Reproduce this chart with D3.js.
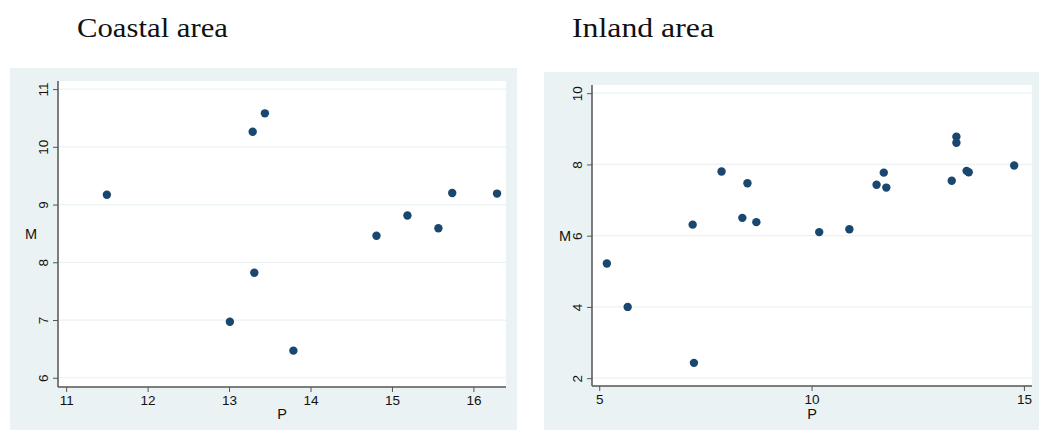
<!DOCTYPE html>
<html>
<head>
<meta charset="utf-8">
<script src="https://cdn.jsdelivr.net/npm/d3@7"></script>
<style>
  body { margin: 0; background: #fff; }
  .tick text { font-family: Arial, "Liberation Sans", sans-serif; font-size: 13.5px; fill: #111; }
</style>
</head>
<body>
<div id="chart"></div>
<script>
// coastal panel data
const coastalP = [11.50, 13.29, 13.44, 13.31, 13.01, 13.79, 14.81, 15.19, 15.57, 15.74, 16.29];
const coastalM = [9.17, 10.26, 10.58, 7.82, 6.97, 6.47, 8.46, 8.81, 8.59, 9.20, 9.19];
const coastalXTicks = [11, 12, 13, 14, 15, 16];
const coastalYTicks = [6, 7, 8, 9, 10, 11];

// inland panel data
const inlandP = [5.18, 5.67, 7.20, 7.23, 7.88, 8.49, 8.37, 8.70, 10.18, 10.89, 11.53, 11.70, 11.76, 13.30, 13.41, 13.41, 13.65, 13.70, 14.77];
const inlandM = [5.22, 4.00, 6.31, 2.43, 7.80, 7.47, 6.50, 6.38, 6.10, 6.18, 7.43, 7.77, 7.35, 7.54, 8.78, 8.61, 7.82, 7.78, 7.97];
const inlandXTicks = [5, 10, 15];
const inlandYTicks = [2, 4, 6, 8, 10];

const svg = d3.select("#chart").append("svg")
  .attr("width", 1039)
  .attr("height", 430);

function drawPanel(opts) {
  const g = svg.append("g");

  // outer light panel
  g.append("rect")
    .attr("x", opts.bg[0]).attr("y", opts.bg[1])
    .attr("width", opts.bg[2]).attr("height", opts.bg[3])
    .attr("fill", "#eaf2f3");

  // plot region
  g.append("rect")
    .attr("x", opts.left).attr("y", opts.top)
    .attr("width", opts.right - opts.left).attr("height", opts.bottom - opts.top)
    .attr("fill", "#fff");

  const x = d3.scaleLinear().domain(opts.xDomain).range([opts.left, opts.right]);
  const y = d3.scaleLinear().domain(opts.yDomain).range([opts.bottom, opts.top]);

  // gridlines
  g.append("g").selectAll("line")
    .data(opts.yTicks)
    .enter()
    .append("line")
    .attr("x1", opts.left).attr("x2", opts.right)
    .attr("y1", d => y(d)).attr("y2", d => y(d))
    .attr("stroke", "#eaf2f3")
    .attr("stroke-width", 1.2);

  // title
  svg.append("text")
    .attr("x", opts.titleX).attr("y", 37)
    .attr("font-family", "'Liberation Serif', 'DejaVu Serif', serif")
    .attr("font-size", 27)
    .attr("textLength", opts.titleLen)
    .attr("lengthAdjust", "spacingAndGlyphs")
    .attr("fill", "#111")
    .text(opts.title);

  // x axis
  const xAxis = g.append("g")
    .attr("transform", `translate(0, ${opts.bottom})`)
    .call(d3.axisBottom(x).tickValues(opts.xTicks).tickSize(5).tickPadding(3).tickFormat(d3.format("d")));
  xAxis.select(".domain").attr("stroke", "#555").attr("stroke-width", 1.5)
    .attr("d", `M${opts.left},0H${opts.right}`);
  xAxis.selectAll(".tick line").attr("stroke", "#555");

  // y axis
  const yAxis = g.append("g")
    .attr("transform", `translate(${opts.left}, 0)`)
    .call(d3.axisLeft(y).tickValues(opts.yTicks).tickSize(5).tickFormat(d3.format("d")));
  yAxis.select(".domain").attr("stroke", "#555").attr("stroke-width", 1.5)
    .attr("d", `M0,${opts.top}V${opts.bottom}`);
  yAxis.selectAll(".tick line").attr("stroke", "#555");
  yAxis.selectAll(".tick text")
    .attr("x", 0).attr("dy", 0)
    .attr("text-anchor", "middle")
    .attr("transform", "translate(-10, 0) rotate(-90)");

  // axis titles
  g.append("text")
    .attr("x", (opts.left + opts.right) / 2)
    .attr("y", 419)
    .attr("text-anchor", "middle")
    .attr("font-family", "Arial, 'Liberation Sans', sans-serif")
    .attr("font-size", 14.5)
    .attr("fill", "#111")
    .text("P");

  g.append("text")
    .attr("x", opts.mX)
    .attr("y", (opts.top + opts.bottom) / 2 + 5)
    .attr("text-anchor", "middle")
    .attr("font-family", "Arial, 'Liberation Sans', sans-serif")
    .attr("font-size", 14.5)
    .attr("fill", "#111")
    .text("M");

  // points
  g.append("g").selectAll("circle")
    .data(opts.px.map((p, i) => [p, opts.my[i]]))
    .enter()
    .append("circle")
    .attr("cx", d => x(d[0]))
    .attr("cy", d => y(d[1]))
    .attr("r", 4.2)
    .attr("fill", "#1a476f");
}

drawPanel({
  title: "Coastal area", titleX: 77, titleLen: 151,
  bg: [10, 68, 507, 362],
  left: 58, right: 506, top: 81, bottom: 387,
  xDomain: [10.9, 16.4], yDomain: [5.84, 11.14],
  xTicks: coastalXTicks, yTicks: coastalYTicks,
  px: coastalP, my: coastalM,
  mX: 31
});

drawPanel({
  title: "Inland area", titleX: 572, titleLen: 142,
  bg: [544, 72, 495, 358],
  left: 592, right: 1032, top: 85, bottom: 386,
  xDomain: [4.83, 15.19], yDomain: [1.78, 10.23],
  xTicks: inlandXTicks, yTicks: inlandYTicks,
  px: inlandP, my: inlandM,
  mX: 565
});
</script>
</body>
</html>
